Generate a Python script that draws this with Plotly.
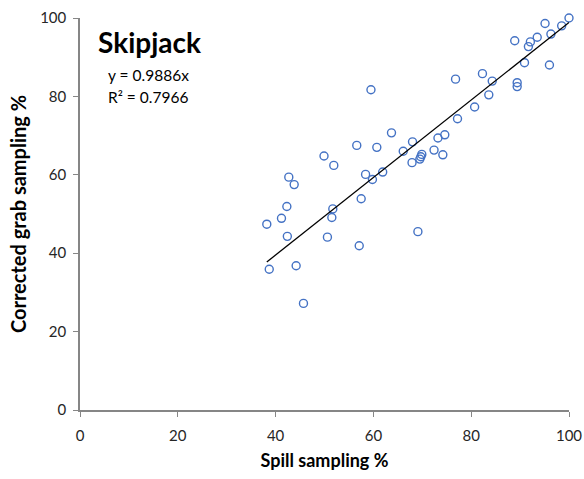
import plotly.graph_objects as go

spill = [100.0, 95.1, 98.5, 96.3, 93.5, 92.1, 91.7, 88.9, 90.9, 96.0,
         82.3, 84.3, 76.8, 59.5, 89.4, 89.4, 83.6, 80.7, 77.2, 63.7,
         74.6, 73.2, 68.0, 56.6, 60.7, 66.1, 72.4, 74.2, 49.9, 69.9,
         69.7, 69.5, 67.9, 51.9, 58.4, 61.9, 59.8, 42.7, 43.8, 57.5,
         42.3, 51.7, 41.2, 38.2, 51.5, 42.4, 50.6, 69.1, 57.1, 38.7,
         44.2, 45.7]
grab = [100.0, 98.6, 98.0, 95.9, 95.1, 93.9, 92.7, 94.2, 88.6, 88.0,
        85.8, 83.9, 84.4, 81.7, 83.5, 82.5, 80.4, 77.3, 74.3, 70.7,
        70.2, 69.4, 68.4, 67.5, 67.0, 66.0, 66.3, 65.1, 64.8, 65.2,
        64.6, 64.0, 63.1, 62.4, 60.1, 60.7, 58.8, 59.4, 57.5, 53.9,
        51.9, 51.3, 48.9, 47.4, 49.1, 44.3, 44.1, 45.5, 41.9, 35.9,
        36.8, 27.2]
slope = 0.9886
trend_x = [min(spill), 100.0]
trend_y = [slope * v for v in trend_x]
ticks = [0, 20, 40, 60, 80, 100]

FONT = "Lato"
AX = "#868686"

fig = go.Figure()
fig.add_trace(go.Scatter(
    x=spill, y=grab, mode="markers",
    marker=dict(symbol="circle-open", size=8, color="#4472C4",
                line=dict(width=1.4, color="#4472C4")),
    showlegend=False, cliponaxis=False))
fig.add_trace(go.Scatter(
    x=trend_x, y=trend_y, mode="lines",
    line=dict(color="black", width=1.3), showlegend=False))

axis_common = dict(range=[0, 100], tickvals=ticks, showgrid=False, zeroline=False,
                   showline=True, linecolor=AX, linewidth=1.5, automargin=False,
                   ticks="outside", ticklen=5, tickcolor=AX, tickwidth=1.2,
                   tickfont=dict(family=FONT, size=15, color="#262626"))

fig.update_layout(
    width=584, height=479,
    margin=dict(l=80, r=15, t=18, b=69),
    paper_bgcolor="white", plot_bgcolor="white",
    xaxis=dict(**axis_common, ticklabelstandoff=6,
               title=dict(text="<b>Spill sampling %</b>", standoff=12,
                          font=dict(family=FONT, size=18, color="black"))),
    yaxis=dict(**axis_common, ticklabelstandoff=4,
               title=dict(text="<b>Corrected grab sampling %</b>", standoff=8,
                          font=dict(family=FONT, size=20, color="black"))),
    annotations=[
        dict(text="<b>Skipjack</b>", xref="paper", yref="paper", x=0.033, y=0.938,
             xanchor="left", yanchor="middle", showarrow=False,
             font=dict(family=FONT, size=28, color="black")),
        dict(text="y = 0.9886x", xref="paper", yref="paper", x=0.053, y=0.855,
             xanchor="left", yanchor="middle", showarrow=False,
             font=dict(family=FONT, size=15.5, color="black")),
        dict(text="R² = 0.7966", xref="paper", yref="paper", x=0.053, y=0.799,
             xanchor="left", yanchor="middle", showarrow=False,
             font=dict(family=FONT, size=15.5, color="black")),
    ],
)

fig.write_html("out.html")
